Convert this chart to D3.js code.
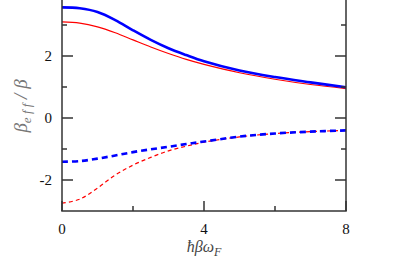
<!DOCTYPE html>
<html lang="en">
<head>
    <meta charset="UTF-8">
    <title>beta_eff / beta</title>
    <style>
        body { margin: 0; background: #fff; }
        .axis line { stroke: #333; stroke-width: 1.5px; }
        .tick-label { font-size: 15px; fill: #111; }
        .label { font-style: italic; }
    </style>
    <script src="https://d3js.org/d3.v7.min.js"></script>
</head>
<body>
    <script>
        // x values (hbar beta omega_F)
        const xVals = [0, 0.5, 1, 1.5, 2, 2.5, 3, 3.5, 4, 5, 6, 7, 8];
        // solid curves
        const blueSolid = [3.57, 3.54, 3.42, 3.16, 2.83, 2.52, 2.25, 2.03, 1.83, 1.53, 1.32, 1.15, 0.99];
        const redSolid = [3.10, 3.06, 2.94, 2.75, 2.52, 2.29, 2.08, 1.89, 1.73, 1.46, 1.25, 1.08, 0.95];
        // dashed curves
        const blueDashed = [-1.41, -1.39, -1.31, -1.21, -1.10, -1.01, -0.93, -0.84, -0.76, -0.60, -0.50, -0.44, -0.40];
        const redDashed = [-2.75, -2.62, -2.26, -1.84, -1.52, -1.27, -1.06, -0.91, -0.78, -0.61, -0.50, -0.44, -0.40];

        const xMajor = [0, 4, 8];
        const xMinor = [2, 6];
        const yMajor = [-2, 0, 2];
        const yMinor = [-1, 1, 3];

        const serif = "'Liberation Serif', 'DejaVu Serif', serif";
        const width = 408, height = 273;
        const svg = d3.select("body").append("svg")
            .attr("width", width).attr("height", height);

        const x = d3.scaleLinear().domain([0, 8]).range([62, 346]);
        const y = d3.scaleLinear().domain([-3, 4]).range([211, -6]);

        // curves
        const line = d3.line()
            .x((d, i) => x(xVals[i]))
            .y(d => y(d))
            .curve(d3.curveCatmullRom.alpha(0.5));

        const series = [
            { v: redSolid, color: "#ff0000", w: 1.2, dash: null },
            { v: blueSolid, color: "#0000ff", w: 2.6, dash: null },
            { v: redDashed, color: "#ff0000", w: 1.2, dash: "4,3" },
            { v: blueDashed, color: "#0000ff", w: 2.6, dash: "6,4" }
        ];
        series.forEach(s => {
            svg.append("path")
                .attr("d", line(s.v))
                .attr("fill", "none")
                .attr("stroke", s.color)
                .attr("stroke-width", s.w)
                .attr("stroke-dasharray", s.dash);
        });

        // frame: left, right, bottom
        const frame = svg.append("g").attr("class", "axis");
        frame.append("line").attr("x1", x(0)).attr("x2", x(0)).attr("y1", y(4)).attr("y2", y(-3));
        frame.append("line").attr("x1", x(8)).attr("x2", x(8)).attr("y1", y(4)).attr("y2", y(-3));
        frame.append("line").attr("x1", x(0) - 0.75).attr("x2", x(8) + 0.75).attr("y1", y(-3)).attr("y2", y(-3));

        // ticks pointing inward
        const ticks = (vals, len) => {
            vals.forEach(v => {
                frame.append("line").attr("x1", x(0)).attr("x2", x(0) + len).attr("y1", y(v)).attr("y2", y(v));
                frame.append("line").attr("x1", x(8)).attr("x2", x(8) - len).attr("y1", y(v)).attr("y2", y(v));
            });
        };
        ticks(yMajor, 11);
        ticks(yMinor, 5);
        xMajor.concat(xMinor).forEach(v => {
            const len = xMajor.includes(v) ? 10 : 5;
            frame.append("line").attr("x1", x(v)).attr("x2", x(v)).attr("y1", y(-3)).attr("y2", y(-3) - len);
        });

        // tick labels
        svg.selectAll(".xl").data(xMajor).enter().append("text")
            .attr("class", "tick-label")
            .attr("font-family", serif)
            .attr("x", d => x(d)).attr("y", 234)
            .attr("text-anchor", "middle")
            .text(d => d);
        svg.selectAll(".yl").data(yMajor).enter().append("text")
            .attr("class", "tick-label")
            .attr("font-family", serif)
            .attr("x", 52).attr("y", d => y(d) + 5)
            .attr("text-anchor", "end")
            .text(d => d < 0 ? "-" + Math.abs(d) : d);

        // axis titles
        const xt = svg.append("text").attr("class", "label")
            .attr("font-family", serif)
            .attr("x", x(4)).attr("y", 252)
            .attr("text-anchor", "middle")
            .attr("fill", "#444").attr("font-size", 16);
        xt.append("tspan").text("ħβω");
        xt.append("tspan").attr("font-size", 12).attr("dy", 4).text("F");

        const yt = svg.append("text").attr("class", "label")
            .attr("font-family", serif)
            .attr("transform", "translate(27,106) rotate(-90)")
            .attr("text-anchor", "middle")
            .attr("fill", "#777").attr("font-size", 19);
        yt.append("tspan").text("β");
        yt.append("tspan").attr("font-size", 13).attr("dy", 4).text("e f f");
        yt.append("tspan").attr("dy", -4).text(" / β");
    </script>
</body>
</html>
